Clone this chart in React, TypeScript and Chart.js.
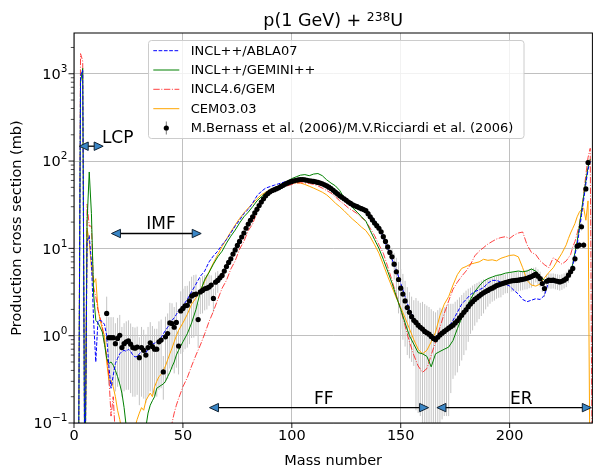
import React, { useEffect, useRef } from 'react';
import { Chart, registerables } from 'chart.js';

Chart.register(...registerables);

const FONT = '"DejaVu Sans", sans-serif';

// ---------- axes ----------
const X_MIN = 0;
const X_MAX = 238;
const Y_MIN = 0.1;
const Y_MAX = 2930;
const xTicks = [0, 50, 100, 150, 200];
const yTicks = [0.1, 1, 10, 100, 1000];
const yTickExp = ['\u22121', '0', '1', '2', '3'];

const titleMain = 'p(1 GeV) + ';
const titleSup = '238';
const titleEnd = 'U';
const xLabel = 'Mass number';
const yLabel = 'Production cross section (mb)';

// ---------- model mass grid ----------
const massLow = [
  2, 3, 4, 5, 6, 7, 8, 9, 10, 11,
  12, 13, 14, 15, 16, 17, 18, 19, 20, 21,
  22, 23, 24, 25, 26, 27, 28, 29, 30, 31,
  32, 33, 34, 35, 36, 37, 38, 39, 40, 41,
  42, 43, 44, 45, 46, 47, 48,
];
const massMid = [
  50, 52, 54, 56, 58, 60, 62, 64, 66, 68,
  70, 72, 74, 76, 78, 80, 82, 84, 86, 88,
  90, 92, 94, 96, 98, 100, 102, 104, 106, 108,
  110, 112, 114, 116, 118, 120, 122, 124, 126, 128,
  130, 132, 134, 136, 138, 140, 142, 144, 146, 148,
  150, 152, 154, 156, 158, 160, 162, 164, 166, 168,
  170, 172, 174, 176, 178, 180, 182, 184, 186, 188,
  190, 192, 194, 196, 198, 200, 202, 204, 206, 208,
  210, 212, 214, 216, 218, 220, 222, 224, 226,
];
const massHigh = [227, 228, 229, 230, 231, 232, 233, 234, 235, 236, 237, 238];

// ---------- INCL++/ABLA07 ----------
const ablaLow = [
  0.01, 950, 1100, 0.01, 12, 14, 7, 1.5, 0.5, 1.5,
  1.5, 1.45, 1.35, 1.0, 0.45, 0.25, 0.35, 0.48, 0.55, 0.62,
  0.66, 0.68, 0.66, 0.7, 0.66, 0.6, 0.57, 0.58, 0.62, 0.66,
  0.68, 0.64, 0.7, 0.75, 0.8, 0.82, 0.85, 0.89, 0.95, 1.05,
  1.15, 1.25, 1.35, 1.5, 1.6, 1.75, 1.95,
];
const ablaMid = [
  2.2, 2.6, 3.2, 3.9, 4.8, 5.5, 7.0, 8.2, 9.3, 11,
  12.6, 15, 18, 21, 25, 28, 33, 40, 45, 49,
  51, 53, 55, 57, 59, 61, 62, 61.5, 60.5, 59,
  58, 57, 55, 52, 48, 44, 39, 35, 33, 31.5,
  30, 28.5, 27, 24, 21, 17.5, 13, 10, 7.5, 5.6,
  4, 2.8, 2, 1.6, 1.35, 1.18, 1.08, 1.0, 0.97, 1.02,
  1.12, 1.26, 1.5, 1.85, 2.3, 2.6, 2.95, 3.2, 3.35, 3.55,
  4.0, 4.3, 4.3, 4.1, 3.9, 3.7, 3.3, 3.0, 2.6, 2.45,
  2.55, 2.65, 2.6, 2.9, 4.2, 4.1, 4.2, 4.3, 4.5,
];
const ablaHigh = [4.7, 5.2, 6.5, 8.5, 11, 16, 24, 36, 55, 80, 100, null];

// ---------- INCL++/GEMINI++ ----------
const geminiLow = [
  0.01, 800, 1150, 0.01, 20, 75, 25, 3, 1.5, 1.4,
  1.25, 1.1, 0.8, 0.55, 0.48, 0.5, 0.46, 0.4, 0.34, 0.28,
  0.22, 0.15, 0.09, 0.05, 0.05, 0.05, 0.05, 0.05, 0.05, 0.05,
  0.05, 0.09, 0.13, 0.16, 0.18, 0.2, 0.25, 0.26, 0.27, 0.28,
  0.3, 0.34, 0.38, 0.44, 0.5, 0.6, 0.68,
];
const geminiMid = [
  0.85, 1.05, 1.4, 2.0, 3.2, 4.4, 5.3, 6.6, 8.0, 9.3,
  11.5, 13.8, 16.2, 19.5, 23, 26, 30, 35, 39, 43,
  46, 49, 52, 55, 59, 63, 66, 69, 70, 68,
  71, 72, 68, 61, 56, 52, 46, 38, 33, 29,
  26, 23, 20.5, 16, 12.6, 10, 7.5, 5.5, 4, 2.8,
  2.0, 1.4, 1.0, 0.8, 0.64, 0.62, 0.58, 0.44, 0.62, 0.66,
  0.7, 0.74, 0.88, 1.2, 1.6, 2.1, 2.6, 3.2, 3.7, 4.2,
  4.5, 4.7, 4.9, 5.0, 5.2, 5.3, 5.4, 5.5, 5.4, 5.5,
  5.8, 5.5, 4.8, 4.3, 4.5, 4.4, 4.3, 4.3, 4.5,
];
const geminiHigh = [4.7, 5.3, 6.7, 9, 12, 18, 27, 40, 60, 85, 105, null];

// ---------- INCL4.6/GEM ----------
const gemLow = [
  0.01, 1700, 1400, 0.01, 32, 18, 18, 3.6, 2.8, 2.0,
  1.6, 1.3, 0.8, 0.6, 0.35, 0.12, 0.2, 0.07, 0.05, 0.05,
  0.05, 0.05, 0.05, 0.05, 0.05, 0.05, 0.05, 0.05, 0.05, 0.05,
  0.05, 0.05, 0.05, 0.05, 0.05, 0.05, 0.05, 0.05, 0.05, 0.05,
  0.05, 0.05, 0.07, 0.1, 0.13, 0.16, 0.19,
];
const gemMid = [
  0.26, 0.33, 0.45, 0.6, 0.78, 1.05, 1.45, 1.9, 2.6, 3.5,
  4.3, 5.8, 7.2, 9.8, 12, 16, 19, 26, 33, 39,
  44, 48, 51, 51, 52, 54, 56, 56.5, 56, 55.5,
  54, 52, 49, 46, 43, 39, 35, 32, 29, 27,
  25, 22.5, 20.5, 17, 14, 11, 8.8, 6.2, 4.3, 2.9,
  2.0, 1.3, 0.85, 0.6, 0.45, 0.38, 0.42, 0.6, 0.85, 1.25,
  1.8, 2.5, 3.4, 4.1, 4.8, 5.5, 6.5, 8.2, 9.3, 10.2,
  11.2, 12, 12.8, 13.3, 13.6, 13, 14.2, 15, 15.4, 11,
  9, 8.5, 7.2, 6.5, 6.0, 7.8, 7.2, 6.6, 7.2,
];
const gemHigh = [7.8, 8.5, 10.4, 12, 14.8, 19, 26, 42, 70, 110, 140, 0.01];

// ---------- CEM03.03 ----------
const cemLow = [
  null, null, null, 0.01, 17, 12, 6, 4.0, 4.5, 2.0,
  1.5, 1.2, 1.0, 0.5, 0.31, 0.31, 0.26, 0.2, 0.14, 0.11,
  0.08, 0.05, 0.05, 0.05, 0.05, 0.05, 0.09, 0.11, 0.13, 0.15,
  0.14, 0.18, 0.2, 0.22, 0.2, 0.26, 0.3, 0.34, 0.36, 0.4,
  0.45, 0.53, 0.62, 0.72, 0.85, 1.0, 1.15,
];
const cemMid = [
  1.4, 1.75, 2.3, 2.7, 3.3, 4.2, 5.4, 6.8, 8.5, 10.5,
  12.8, 15.5, 18.5, 22, 25.5, 29, 32.6, 37, 41, 44,
  47, 49, 51, 53, 55, 56, 56.5, 56, 54, 51.5,
  49, 46.5, 44, 41, 37, 33, 30, 27, 24, 21.5,
  19.5, 17.5, 16, 13.6, 11, 8.8, 6.5, 4.8, 3.6, 2.7,
  2.1, 1.6, 1.2, 0.9, 0.7, 0.62, 0.68, 0.85, 1.1, 1.7,
  2.3, 2.8, 3.8, 5.0, 5.9, 6.2, 6.6, 6.8, 7.0, 7.5,
  7.3, 7.4, 7.2, 7.7, 8.0, 8.3, 8.4, 8.0, 6.0, 4.3,
  3.8, 3.7, 3.9, 4.6, 5.3, 6.0, 7.3, 8.8, 11,
];
const cemHigh = [13, 15, 17, 19.3, 23, 26, 28, 29, 21, 35, 0.01, null];

// ---------- experiment ----------
const expLabel = 'M.Bernass et al. (2006)/M.V.Ricciardi et al. (2006)';
const expA = [
  15, 16, 17, 18, 19, 20, 21, 22, 23, 24,
  25, 26, 27, 28, 29, 30, 31, 32, 33, 34,
  35, 36, 37, 38, 39, 40, 41, 42, 43, 44,
  45, 46, 47, 48, 49, 50, 51, 52, 53, 54,
  55, 56, 57, 58, 59, 60, 61, 62, 63, 64,
  65, 66, 67, 68, 69, 70, 71, 72, 73, 74,
  75, 76, 77, 78, 79, 80, 81, 82, 83, 84,
  85, 86, 87, 88, 89, 90, 91, 92, 93, 94,
  95, 96, 97, 98, 99, 100, 101, 102, 103, 104,
  105, 106, 107, 108, 109, 110, 111, 112, 113, 114,
  115, 116, 117, 118, 119, 120, 121, 122, 123, 124,
  125, 126, 127, 128, 129, 130, 131, 132, 133, 134,
  135, 136, 137, 138, 139, 140, 141, 142, 143, 144,
  145, 146, 147, 148, 149, 150, 151, 152, 153, 154,
  155, 156, 157, 158, 159, 160, 161, 162, 163, 164,
  165, 166, 167, 168, 169, 170, 171, 172, 173, 174,
  175, 176, 177, 178, 179, 180, 181, 182, 183, 184,
  185, 186, 187, 188, 189, 190, 191, 192, 193, 194,
  195, 196, 197, 198, 199, 200, 201, 202, 203, 204,
  205, 206, 207, 208, 209, 210, 211, 212, 213, 214,
  215, 216, 217, 218, 219, 220, 221, 222, 223, 224,
  225, 226, 227, 228, 229, 230, 231, 232, 233, 234,
  235, 236,
];
const expV = [
  1.8, 0.95, 0.95, 0.95, 0.81, 0.93, 1.01, 0.73, 0.81, 0.85,
  0.87, 0.8, 0.73, 0.72, 0.74, 0.56, 0.73, 0.68, 0.6, 0.73,
  0.83, 0.75, 0.7, 0.7, 0.85, 0.89, 0.385, 0.97, 1.06, 1.4,
  1.38, 1.25, 1.42, 0.76, 1.92, 2.05, 2.2, 2.23, 2.5, 2.84,
  2.95, 3.0, 1.53, 3.17, 3.3, 3.45, 3.5, 3.6, 3.8, 2.67,
  4.1, 4.3, 4.6, 4.9, 5.5, 6.2, 6.9, 7.6, 8.6, 9.6,
  10.8, 12, 13.5, 15, 17, 19, 21, 23, 25.5, 28,
  31, 34, 37, 40, 42.5, 44.4, 46, 47, 48.3, 49.5,
  51.2, 52.8, 54.5, 56, 57.3, 58.5, 59.5, 60.3, 61, 61.5,
  61.5, 61, 60.3, 59.5, 59, 58.5, 57.8, 57, 56, 55,
  53.5, 52, 50.3, 48.5, 46.2, 44, 42, 40, 38.5, 37,
  35.5, 34, 32.7, 31.5, 30.7, 30, 29.2, 28.5, 27.8, 27,
  25, 23, 21.2, 19.5, 18.2, 17, 15.5, 13.6, 12, 10.4,
  9, 8.0, 6.6, 5.4, 4.4, 3.5, 3.0, 2.5, 2.1, 1.85,
  1.65, 1.5, 1.42, 1.32, 1.25, 1.19, 1.12, 1.08, 1.04, 0.98,
  0.93, 0.9, 0.96, 1.02, 1.07, 1.12, 1.17, 1.22, 1.27, 1.32,
  1.4, 1.48, 1.6, 1.72, 1.85, 1.98, 2.15, 2.3, 2.45, 2.6,
  2.72, 2.85, 2.98, 3.1, 3.2, 3.3, 3.42, 3.5, 3.62, 3.75,
  3.82, 3.9, 3.98, 4.05, 4.12, 4.2, 4.25, 4.28, 4.3, 4.32,
  4.38, 4.42, 4.48, 4.55, 4.65, 4.75, 4.9, 5.07, 4.8, 4.5,
  3.96, 3.47, 4.2, 4.32, 4.3, 4.32, 4.25, 4.2, 4.13, 4.2,
  4.32, 4.5, 4.93, 5.4, 5.9, 7.6, 10.6, 10.9, 17.7, 10.9,
  48, 96,
];
const expErr = [
  1.0, 0.68, 0.68, 0.68, 0.58, 0.67, 0.72, 0.53, 0.58, 0.61,
  0.63, 0.58, 0.53, 0.52, 0.53, 0.4, 0.53, 0.49, 0.43, 0.53,
  0.6, 0.54, 0.5, 0.5, 0.61, 0.64, 0.2, 0.68, 0.74, 0.98,
  0.97, 0.88, 0.99, 0.4, 1.3, 1.4, 1.5, 1.5, 1.7, 1.9,
  2.0, 2.0, 0.8, 1.4, 1.5, 1.5, 1.5, 1.4, 1.1, 0.8,
  1.2, 1.2, 0.5, 0.4, 0.45, 0.5, 0.55, 0.6, 0.7, 0.8,
  0.9, 1.0, 0.8, 0.9, 1.0, 1.1, 1.3, 1.4, 1.5, 1.7,
  1.9, 2.0, 2.2, 2.4, 2.5, 2.7, 2.8, 2.8, 2.9, 3.0,
  3.1, 3.2, 3.3, 3.4, 3.4, 3.5, 3.6, 3.6, 3.7, 3.7,
  3.7, 3.7, 3.6, 3.6, 3.5, 3.5, 3.5, 3.4, 3.4, 3.3,
  3.2, 3.1, 3.0, 2.9, 2.8, 2.6, 2.5, 2.4, 2.3, 2.2,
  2.1, 2.0, 2.0, 1.9, 1.8, 1.8, 1.75, 1.7, 1.65, 1.6,
  1.5, 1.4, 1.3, 1.2, 1.1, 1.0, 1.2, 1.1, 1.0, 1.0,
  1.2, 1.8, 2.2, 2.4, 2.6, 2.3, 2.1, 1.75, 1.5, 1.3,
  1.15, 1.05, 1.28, 1.19, 1.13, 1.25, 1.18, 1.13, 1.09, 1.03,
  0.98, 0.95, 1.0, 1.07, 0.96, 1.0, 1.05, 1.1, 1.05, 1.0,
  1.05, 1.1, 1.15, 1.2, 1.25, 1.3, 1.3, 1.25, 1.3, 1.3,
  1.3, 1.3, 1.3, 1.3, 1.2, 1.15, 1.1, 1.05, 1.1, 1.1,
  1.1, 1.15, 1.05, 1.0, 1.05, 1.05, 1.05, 1.05, 1.1, 1.1,
  1.1, 1.1, 1.1, 1.15, 1.15, 1.2, 1.1, 1.0, 0.95, 0.9,
  0.8, 0.7, 0.8, 0.85, 0.85, 0.85, 0.85, 0.85, 0.85, 0.85,
  0.85, 0.9, 0.9, 0.8, 0.6, 0.7, 1.0, 1.0, 1.7, 1.0,
  4, 8,
];

// ---------- annotations (data coordinates) ----------
const annotations = [
  { label: 'LCP', from: 2.4, to: 13.4, y: 148, textA: 12.8, textY: 160 },
  { label: 'IMF', from: 17.2, to: 58.4, y: 14.8, textA: 33.2, textY: 16.5 },
  { label: 'FF', from: 62.2, to: 162.8, y: 0.15, textA: 110.2, textY: 0.166 },
  { label: 'ER', from: 166.6, to: 237.5, y: 0.15, textA: 200.2, textY: 0.167 },
];

const modelA = [...massLow, ...massMid, ...massHigh];
const series = [
  { label: 'INCL++/ABLA07', color: '#0000ff', dash: [3.7, 1.6], values: [...ablaLow, ...ablaMid, ...ablaHigh] },
  { label: 'INCL++/GEMINI++', color: '#008000', dash: [], values: [...geminiLow, ...geminiMid, ...geminiHigh] },
  { label: 'INCL4.6/GEM', color: 'rgba(255,0,0,0.75)', dash: [6.4, 1.6, 1, 1.6], values: [...gemLow, ...gemMid, ...gemHigh] },
  { label: 'CEM03.03', color: '#ffa500', dash: [], values: [...cemLow, ...cemMid, ...cemHigh] },
];

const ERR_COLOR = '#c4c4c4';
const GRID_COLOR = '#b0b0b0';

function drawArrow(ctx: CanvasRenderingContext2D, x0: number, x1: number, y: number) {
  const hl = 9;
  const hw = 4.2;
  ctx.save();
  ctx.strokeStyle = '#000';
  ctx.lineWidth = 1.3;
  ctx.beginPath();
  ctx.moveTo(x0 + 2, y);
  ctx.lineTo(x1 - 2, y);
  ctx.stroke();
  const heads: [number, number][] = [[x0, 1], [x1, -1]];
  for (const [tip, dir] of heads) {
    ctx.beginPath();
    ctx.moveTo(tip, y);
    ctx.lineTo(tip + dir * hl, y - hw);
    ctx.lineTo(tip + dir * hl, y + hw);
    ctx.closePath();
    ctx.fillStyle = '#3a86c6';
    ctx.fill();
    ctx.lineWidth = 1;
    ctx.strokeStyle = '#102030';
    ctx.stroke();
  }
  ctx.restore();
}

const customPlugin = {
  id: 'customDraw',
  beforeDatasetsDraw(chart: any) {
    const { ctx, chartArea: a, scales } = chart;
    const x = scales.x;
    const y = scales.y;
    ctx.save();
    ctx.beginPath();
    ctx.rect(a.left, a.top, a.right - a.left, a.bottom - a.top);
    ctx.clip();
    ctx.strokeStyle = ERR_COLOR;
    ctx.lineWidth = 1;
    expA.forEach((A, i) => {
      const v = expV[i];
      const e = expErr[i];
      const px = x.getPixelForValue(A);
      const lo = v - e > 0 ? y.getPixelForValue(v - e) : a.bottom + 5;
      const hi = y.getPixelForValue(v + e);
      ctx.beginPath();
      ctx.moveTo(px, lo);
      ctx.lineTo(px, hi);
      ctx.stroke();
    });
    ctx.restore();
  },
  afterDraw(chart: any) {
    const { ctx, chartArea: a, scales } = chart;
    const x = scales.x;
    const y = scales.y;
    ctx.save();

    // spines
    ctx.strokeStyle = '#000';
    ctx.lineWidth = 1;
    ctx.strokeRect(a.left, a.top, a.right - a.left, a.bottom - a.top);

    // x ticks
    ctx.lineWidth = 0.9;
    xTicks.forEach((t) => {
      const px = x.getPixelForValue(t);
      ctx.beginPath();
      ctx.moveTo(px, a.bottom);
      ctx.lineTo(px, a.bottom + 5);
      ctx.stroke();
    });
    // y ticks (major + minor)
    yTicks.forEach((d) => {
      const py = y.getPixelForValue(d);
      ctx.lineWidth = 0.9;
      ctx.beginPath();
      ctx.moveTo(a.left - 5.5, py);
      ctx.lineTo(a.left, py);
      ctx.stroke();
      for (let m = 2; m <= 9; m++) {
        const v = d * m;
        if (v > Y_MAX) break;
        const pm = y.getPixelForValue(v);
        ctx.lineWidth = 0.7;
        ctx.beginPath();
        ctx.moveTo(a.left - 3.2, pm);
        ctx.lineTo(a.left, pm);
        ctx.stroke();
      }
    });

    // y tick labels
    ctx.fillStyle = '#000';
    ctx.textBaseline = 'alphabetic';
    ctx.textAlign = 'left';
    yTicks.forEach((d, i) => {
      const py = y.getPixelForValue(d);
      ctx.font = `10.5px ${FONT}`;
      const we = ctx.measureText(yTickExp[i]).width;
      ctx.font = `14.5px ${FONT}`;
      const wb = ctx.measureText('10').width;
      const right = a.left - 6.5;
      ctx.fillText('10', right - we - wb, py + 5.3);
      ctx.font = `10.5px ${FONT}`;
      ctx.fillText(yTickExp[i], right - we, py - 1.6);
    });

    // title
    const cx = (a.left + a.right) / 2;
    ctx.font = `17.5px ${FONT}`;
    const w1 = ctx.measureText(titleMain).width;
    const w3 = ctx.measureText(titleEnd).width;
    ctx.font = `12.3px ${FONT}`;
    const w2 = ctx.measureText(titleSup).width;
    let tx = cx - (w1 + w2 + w3) / 2;
    ctx.font = `17.5px ${FONT}`;
    ctx.fillText(titleMain, tx, 26);
    tx += w1;
    ctx.font = `12.3px ${FONT}`;
    ctx.fillText(titleSup, tx, 20.5);
    tx += w2;
    ctx.font = `17.5px ${FONT}`;
    ctx.fillText(titleEnd, tx, 26);

    // axis labels
    ctx.font = `14.5px ${FONT}`;
    ctx.textAlign = 'center';
    ctx.fillText(xLabel, cx, 465);
    ctx.save();
    ctx.translate(21, (a.top + a.bottom) / 2);
    ctx.rotate(-Math.PI / 2);
    ctx.fillText(yLabel, 0, 0);
    ctx.restore();

    // annotations
    annotations.forEach((an) => {
      const py = y.getPixelForValue(an.y);
      drawArrow(ctx, x.getPixelForValue(an.from), x.getPixelForValue(an.to), py);
      ctx.fillStyle = '#000';
      ctx.font = `17px ${FONT}`;
      ctx.textAlign = 'left';
      ctx.textBaseline = 'alphabetic';
      ctx.fillText(an.label, x.getPixelForValue(an.textA), y.getPixelForValue(an.textY));
    });

    // legend
    const lx = 148.5, ly = 40.5, lw = 375.5, lh = 98, r = 3;
    ctx.beginPath();
    ctx.moveTo(lx + r, ly);
    ctx.lineTo(lx + lw - r, ly);
    ctx.quadraticCurveTo(lx + lw, ly, lx + lw, ly + r);
    ctx.lineTo(lx + lw, ly + lh - r);
    ctx.quadraticCurveTo(lx + lw, ly + lh, lx + lw - r, ly + lh);
    ctx.lineTo(lx + r, ly + lh);
    ctx.quadraticCurveTo(lx, ly + lh, lx, ly + lh - r);
    ctx.lineTo(lx, ly + r);
    ctx.quadraticCurveTo(lx, ly, lx + r, ly);
    ctx.closePath();
    ctx.fillStyle = 'rgba(255,255,255,0.8)';
    ctx.fill();
    ctx.strokeStyle = '#cccccc';
    ctx.lineWidth = 1;
    ctx.stroke();

    const rows = [50.7, 70, 89.3, 108.7, 128];
    ctx.font = `13px ${FONT}`;
    ctx.textBaseline = 'middle';
    ctx.textAlign = 'left';
    series.forEach((s, i) => {
      const ry = rows[i];
      ctx.strokeStyle = s.color;
      ctx.lineWidth = 1;
      ctx.setLineDash(s.dash);
      ctx.beginPath();
      ctx.moveTo(153.3, ry);
      ctx.lineTo(179.3, ry);
      ctx.stroke();
      ctx.setLineDash([]);
      ctx.fillStyle = '#000';
      ctx.fillText(s.label, 190.7, ry + 0.5);
    });
    const ey = rows[4];
    ctx.strokeStyle = '#777';
    ctx.lineWidth = 1;
    ctx.beginPath();
    ctx.moveTo(166.3, ey - 6.5);
    ctx.lineTo(166.3, ey + 6.5);
    ctx.stroke();
    ctx.fillStyle = '#000';
    ctx.beginPath();
    ctx.arc(166.3, ey, 2.6, 0, Math.PI * 2);
    ctx.fill();
    ctx.fillText(expLabel, 190.7, ey + 0.5);

    ctx.restore();
  },
};

export default function App() {
  const ref = useRef<HTMLCanvasElement>(null);
  useEffect(() => {
    if (!ref.current) return;
    const datasets: any[] = [
      {
        label: expLabel,
        data: expA.map((A, i) => ({ x: A, y: expV[i] })),
        showLine: false,
        pointRadius: 2.6,
        pointHoverRadius: 2.6,
        pointBackgroundColor: '#000',
        pointBorderWidth: 0,
        borderColor: '#000',
        order: 0,
      },
      ...series.map((s, k) => ({
        label: s.label,
        data: modelA.map((A, i) => ({ x: A, y: s.values[i] })),
        borderColor: s.color,
        borderWidth: 1,
        borderDash: s.dash,
        pointRadius: 0,
        pointHoverRadius: 0,
        tension: 0,
        fill: false,
        spanGaps: false,
        order: k + 1,
      })),
    ];
    const chart = new Chart(ref.current, {
      type: 'line',
      data: { datasets },
      options: {
        responsive: false,
        maintainAspectRatio: false,
        devicePixelRatio: 1,
        animation: false,
        events: [],
        layout: { padding: { top: 33, right: 1, left: 0, bottom: 0 } },
        plugins: {
          legend: { display: false },
          title: { display: false },
          tooltip: { enabled: false },
        },
        scales: {
          x: {
            type: 'linear',
            min: X_MIN,
            max: X_MAX,
            afterBuildTicks: (s: any) => {
              s.ticks = xTicks.map((v) => ({ value: v }));
            },
            afterFit: (s: any) => {
              s.height = 48;
            },
            grid: { color: GRID_COLOR, lineWidth: 0.8, drawTicks: false },
            border: { display: false },
            ticks: {
              color: '#000',
              font: { family: FONT, size: 14.5 },
              padding: 5,
              maxRotation: 0,
              autoSkip: false,
            },
          },
          y: {
            type: 'logarithmic',
            min: Y_MIN,
            max: Y_MAX,
            afterBuildTicks: (s: any) => {
              s.ticks = yTicks.map((v) => ({ value: v }));
            },
            afterFit: (s: any) => {
              s.width = 74;
            },
            grid: { color: GRID_COLOR, lineWidth: 0.8, drawTicks: false },
            border: { display: false },
            ticks: { display: false },
          },
        },
      } as any,
      plugins: [customPlugin],
    });
    return () => chart.destroy();
  }, []);
  return (
    <div style={{ position: 'absolute', left: 0, top: 0, width: 595, height: 471, background: '#fff' }}>
      <canvas ref={ref} width={595} height={471} style={{ display: 'block', width: 595, height: 471 }} />
    </div>
  );
}
